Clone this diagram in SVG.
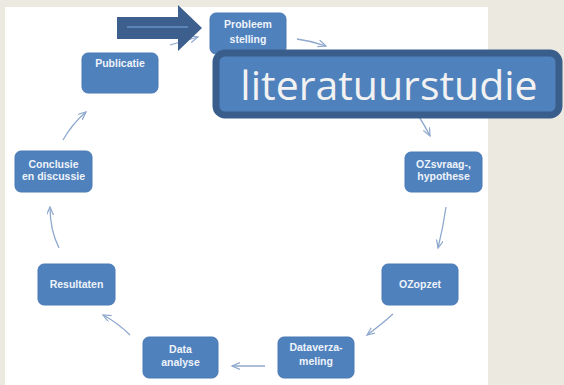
<svg xmlns="http://www.w3.org/2000/svg" width="564" height="385" viewBox="0 0 564 385">
  <defs>
    <marker id="ah" markerWidth="10" markerHeight="8" refX="8" refY="3.5" orient="auto" markerUnits="userSpaceOnUse">
      <path d="M0,0 L8,3.5 L0,7" fill="none" stroke="#8EA8CE" stroke-width="1.2"/>
    </marker>
  </defs>
  <style>
    .node rect { fill: #4F81BD; stroke: #4A7AB4; stroke-width: 1; }
    .node text { font-family: "Liberation Sans", Arial, sans-serif; font-weight: bold; font-size: 10.5px; fill: #EEF3FA; text-anchor: middle; }
    .conn path { fill: none; stroke: #8EA8CE; stroke-width: 1.3; marker-end: url(#ah); }
  </style>
  <rect x="0" y="0" width="564" height="385" fill="#ECE9E0"/>
  <rect x="5" y="7" width="483" height="378" fill="#FFFFFF"/>

  <g id="connectors" class="conn">
    <path d="M297,39 Q312,41 326,46"/>
    <path d="M404,95 Q420,116 430,136"/>
    <path d="M446,207 Q443,228 438,248"/>
    <path d="M393,314 Q382,324 367,335"/>
    <path d="M265,366 L232,366"/>
    <path d="M130,335 Q118,323 103,315"/>
    <path d="M59,248 Q50,230 50,207"/>
    <path d="M63,140 Q72,124 86,112"/>
    <path d="M170,45 Q184,41 198,37"/>
  </g>

  <g id="node-probleemstelling" class="node">
    <rect x="210" y="13" width="76" height="41" rx="6"/>
    <text x="248" y="28">Probleem</text>
    <text x="248" y="43">stelling</text>
  </g>
  <g id="node-publicatie" class="node">
    <rect x="82" y="53" width="76" height="40" rx="6"/>
    <text x="120" y="67">Publicatie</text>
  </g>
  <g id="node-conclusie" class="node">
    <rect x="15" y="151" width="77" height="41" rx="6"/>
    <text x="53.5" y="168">Conclusie</text>
    <text x="53.5" y="180">en discussie</text>
  </g>
  <g id="node-ozsvraag" class="node">
    <rect x="405" y="152" width="77" height="40" rx="6"/>
    <text x="443.5" y="168">OZsvraag-,</text>
    <text x="443.5" y="180">hypothese</text>
  </g>
  <g id="node-resultaten" class="node">
    <rect x="38" y="264" width="77" height="41" rx="6"/>
    <text x="76.5" y="288">Resultaten</text>
  </g>
  <g id="node-ozopzet" class="node">
    <rect x="382" y="264" width="76" height="41" rx="6"/>
    <text x="420" y="288">OZopzet</text>
  </g>
  <g id="node-dataanalyse" class="node">
    <rect x="143" y="337" width="75" height="41" rx="6"/>
    <text x="180.5" y="353">Data</text>
    <text x="180.5" y="366">analyse</text>
  </g>
  <g id="node-dataverzameling" class="node">
    <rect x="278" y="337" width="76" height="41" rx="6"/>
    <text x="316" y="351">Dataverza-</text>
    <text x="316" y="365">meling</text>
  </g>

  <g id="big-arrow">
    <polygon points="117,17 178,17 178,5 202,28 178,51 178,39 117,39" fill="#3C5F8D"/>
    <line x1="127" y1="27" x2="188" y2="27" stroke="#5B84B8" stroke-width="2"/>
  </g>

  <g id="literatuurstudie">
    <rect x="216" y="53" width="343" height="62" rx="9" fill="#4F81BD" stroke="#395E8C" stroke-width="7"/>
    <text x="389" y="100" font-family="'Open Sans', 'DejaVu Sans', sans-serif" font-size="41" fill="#F2F2F2" text-anchor="middle">literatuurstudie</text>
  </g>
</svg>
